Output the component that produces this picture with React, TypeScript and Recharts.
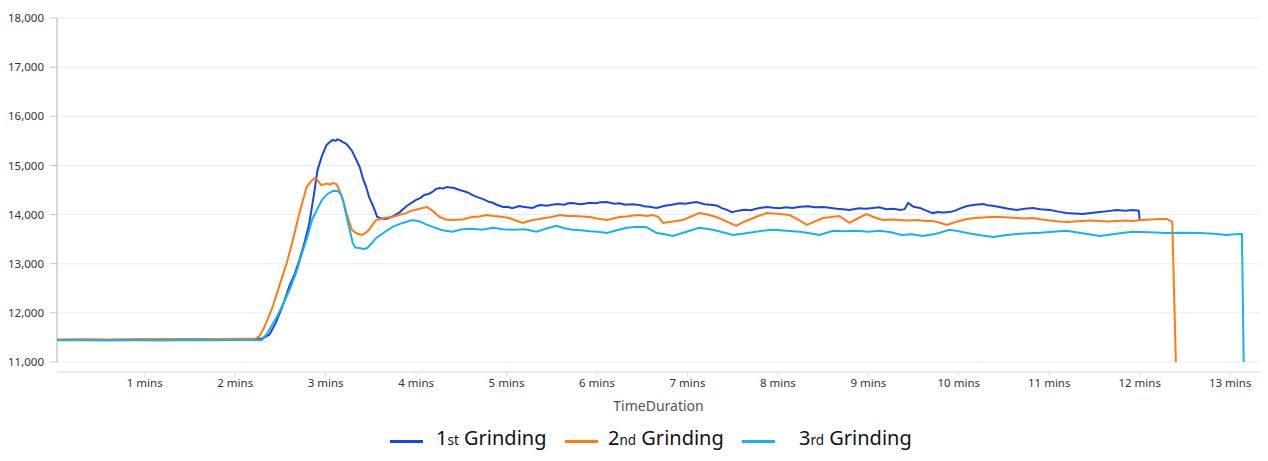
import React from 'react';
import { LineChart, Line, XAxis, YAxis, CartesianGrid, Legend, ReferenceLine } from 'recharts';

const seriesNames = ['1st Grinding', '2nd Grinding', '3rd Grinding'];
const xTicks = [1, 2, 3, 4, 5, 6, 7, 8, 9, 10, 11, 12, 13];
const yTicks = [11000, 12000, 13000, 14000, 15000, 16000, 17000, 18000];

const firstT = [
  0.02, 0.3, 0.6, 0.9, 1.2, 1.5, 1.8, 2.1, 2.25, 2.3,
  2.38, 2.45, 2.52, 2.6, 2.66, 2.71, 2.77, 2.82, 2.87, 2.91,
  2.96, 3.01, 3.05, 3.08, 3.11, 3.13, 3.16, 3.19, 3.22, 3.24,
  3.29, 3.34, 3.38, 3.41, 3.45, 3.48, 3.53, 3.57, 3.62, 3.67,
  3.74, 3.82, 3.9, 4.0, 4.05, 4.09, 4.14, 4.18, 4.22, 4.26,
  4.3, 4.34, 4.38, 4.42, 4.48, 4.52, 4.57, 4.62, 4.67, 4.72,
  4.76, 4.81, 4.85, 4.89, 4.96, 5.01, 5.06, 5.1, 5.14, 5.18,
  5.22, 5.29, 5.33, 5.37, 5.45, 5.5, 5.56, 5.64, 5.68, 5.73,
  5.81, 5.86, 5.92, 5.98, 6.04, 6.11, 6.19, 6.25, 6.31, 6.39,
  6.47, 6.52, 6.58, 6.66, 6.75, 6.83, 6.91, 6.98, 7.04, 7.1,
  7.19, 7.28, 7.33, 7.38, 7.43, 7.49, 7.56, 7.63, 7.7, 7.78,
  7.88, 7.95, 8.02, 8.09, 8.16, 8.25, 8.33, 8.41, 8.5, 8.57,
  8.65, 8.72, 8.79, 8.9, 8.97, 9.05, 9.12, 9.2, 9.28, 9.35,
  9.4, 9.44, 9.5, 9.57, 9.64, 9.71, 9.77, 9.82, 9.9, 9.96,
  10.01, 10.09, 10.18, 10.27, 10.32, 10.37, 10.45, 10.55, 10.64, 10.73,
  10.82, 10.9, 11.01, 11.1, 11.19, 11.28, 11.37, 11.46, 11.56, 11.65,
  11.75, 11.84, 11.92, 11.99, 12.0,
];
const firstV = [
  11450, 11455, 11450, 11460, 11455, 11465, 11460, 11470, 11470, 11480,
  11560, 11800, 12120, 12550, 12800, 13075, 13450, 13830, 14400, 14900,
  15200, 15415, 15480, 15520, 15500, 15530, 15510, 15475, 15450, 15415,
  15300, 15110, 14950, 14745, 14550, 14360, 14150, 13950, 13920, 13910,
  13960, 14050, 14180, 14300, 14340, 14400, 14420, 14460, 14520, 14540,
  14530, 14560, 14550, 14540, 14500, 14480, 14450, 14400, 14360, 14330,
  14300, 14255, 14240, 14200, 14155, 14160, 14130, 14150, 14175, 14160,
  14150, 14135, 14170, 14195, 14180, 14200, 14215, 14200, 14230, 14235,
  14210, 14220, 14240, 14230, 14250, 14255, 14220, 14230, 14200, 14210,
  14195, 14170, 14160, 14135, 14180, 14200, 14230, 14220, 14240, 14255,
  14210, 14195, 14180, 14130, 14100, 14050, 14080, 14100, 14090, 14130,
  14155, 14140, 14130, 14150, 14135, 14160, 14170, 14150, 14155, 14140,
  14120, 14110, 14095, 14130, 14120, 14135, 14150, 14110, 14120, 14095,
  14110, 14235, 14160, 14135, 14080, 14030, 14050, 14040, 14050, 14080,
  14120, 14175, 14200, 14215, 14190, 14180, 14155, 14120, 14095, 14120,
  14135, 14110, 14095, 14060, 14030, 14020, 14010, 14030, 14050, 14070,
  14095, 14080, 14095, 14080, 13880,
];

const secondT = [
  0.02, 0.3, 0.6, 0.9, 1.2, 1.5, 1.8, 2.1, 2.23, 2.27,
  2.32, 2.41, 2.49, 2.57, 2.64, 2.71, 2.79, 2.84, 2.88, 2.91,
  2.95, 2.99, 3.02, 3.05, 3.08, 3.12, 3.15, 3.2, 3.23, 3.29,
  3.34, 3.4, 3.44, 3.48, 3.52, 3.56, 3.65, 3.74, 3.81, 3.89,
  3.95, 4.0, 4.06, 4.12, 4.18, 4.26, 4.33, 4.4, 4.51, 4.62,
  4.7, 4.78, 4.85, 4.92, 5.03, 5.1, 5.18, 5.23, 5.29, 5.36,
  5.42, 5.5, 5.59, 5.67, 5.75, 5.84, 5.92, 6.0, 6.11, 6.18,
  6.25, 6.33, 6.4, 6.47, 6.55, 6.62, 6.68, 6.73, 6.84, 6.95,
  7.04, 7.13, 7.22, 7.32, 7.43, 7.54, 7.62, 7.69, 7.78, 7.88,
  8.02, 8.13, 8.24, 8.32, 8.41, 8.5, 8.59, 8.68, 8.79, 8.88,
  8.98, 9.07, 9.16, 9.25, 9.35, 9.45, 9.55, 9.63, 9.71, 9.8,
  9.87, 9.98, 10.09, 10.18, 10.27, 10.36, 10.45, 10.55, 10.64, 10.73,
  10.82, 10.92, 11.01, 11.1, 11.19, 11.28, 11.37, 11.46, 11.56, 11.65,
  11.75, 11.84, 11.92, 12.02, 12.12, 12.22, 12.3, 12.36, 12.4,
];
const secondV = [
  11460, 11465, 11460, 11465, 11470, 11465, 11470, 11475, 11480, 11530,
  11700, 12100, 12560, 13015, 13500, 14030, 14560, 14680, 14745, 14700,
  14600, 14620, 14630, 14610, 14640, 14620, 14500, 14250, 14030, 13690,
  13620, 13585, 13620, 13690, 13800, 13890, 13930, 13950, 13990, 14030,
  14080, 14100, 14130, 14155, 14080, 13950, 13900, 13890, 13900, 13950,
  13960, 13990, 13970, 13960, 13930, 13880, 13830, 13860, 13890, 13910,
  13930, 13950, 13990, 13970, 13970, 13960, 13950, 13920, 13890, 13920,
  13950, 13960, 13980, 13990, 13970, 13990, 13950, 13830, 13860, 13890,
  13960, 14030, 14000, 13950, 13860, 13770, 13850, 13900, 13970, 14030,
  14010, 13990, 13880, 13790, 13860, 13930, 13950, 13970, 13830, 13920,
  14010, 13940, 13890, 13900, 13890, 13880, 13890, 13870, 13870, 13830,
  13790, 13860, 13910, 13930, 13940, 13950, 13950, 13940, 13930, 13920,
  13930, 13900, 13880, 13860, 13850, 13860, 13870, 13880, 13870, 13860,
  13870, 13880, 13870, 13890, 13900, 13910, 13910, 13850, 11000,
];

const thirdT = [
  0.02, 0.3, 0.6, 0.9, 1.2, 1.5, 1.8, 2.1, 2.25, 2.3,
  2.36, 2.46, 2.53, 2.6, 2.68, 2.74, 2.8, 2.85, 2.91, 2.96,
  3.02, 3.08, 3.13, 3.17, 3.19, 3.24, 3.3, 3.33, 3.37, 3.42,
  3.46, 3.51, 3.56, 3.65, 3.74, 3.85, 3.96, 4.04, 4.11, 4.18,
  4.29, 4.4, 4.51, 4.62, 4.73, 4.85, 4.96, 5.07, 5.2, 5.33,
  5.45, 5.55, 5.64, 5.73, 5.82, 5.92, 6.01, 6.11, 6.22, 6.33,
  6.44, 6.55, 6.66, 6.75, 6.84, 6.99, 7.13, 7.28, 7.39, 7.5,
  7.61, 7.72, 7.83, 7.94, 8.09, 8.24, 8.35, 8.46, 8.61, 8.74,
  8.87, 9.0, 9.13, 9.25, 9.37, 9.48, 9.6, 9.75, 9.9, 10.0,
  10.09, 10.24, 10.38, 10.51, 10.64, 10.77, 10.9, 11.04, 11.19, 11.37,
  11.56, 11.74, 11.92, 12.1, 12.3, 12.48, 12.67, 12.82, 12.96, 13.05,
  13.13, 13.15,
];
const thirdV = [
  11440, 11445, 11440, 11445, 11440, 11450, 11445, 11450, 11445, 11450,
  11600, 11915, 12180, 12465, 12850, 13220, 13560, 13890, 14120, 14300,
  14420, 14480, 14480, 14420, 14300, 13890, 13420, 13330, 13320, 13300,
  13320, 13420, 13525, 13640, 13750, 13830, 13890, 13860, 13800, 13750,
  13680, 13650, 13700, 13710, 13690, 13730, 13700, 13690, 13700, 13650,
  13720, 13770, 13720, 13690, 13680, 13660, 13650, 13625, 13680, 13730,
  13750, 13740, 13625, 13600, 13565, 13650, 13730, 13690, 13640, 13585,
  13610, 13640, 13670, 13690, 13670, 13650, 13620, 13585, 13670, 13660,
  13670, 13650, 13670, 13640, 13585, 13600, 13565, 13610, 13690, 13660,
  13625, 13580, 13545, 13580, 13605, 13620, 13630, 13650, 13670, 13620,
  13565, 13610, 13650, 13640, 13625, 13630, 13625, 13610, 13585, 13600,
  13605, 11000,
];

const colors = ['#1b44e8', '#ff7b12', '#15b3ec'];

const build = (ts: number[], vs: number[]) => ts.map((t, i) => ({ t, v: vs[i] }));
const firstData = build(firstT, firstV);
const secondData = build(secondT, secondV);
const thirdData = build(thirdT, thirdV);

const legendPos = [
  { sw: 390, tx: 436 },
  { sw: 565, tx: 608 },
  { sw: 742, tx: 799 },
];
const suffixes = ['st', 'nd', 'rd'];
const digits = ['1', '2', '3'];

const renderLegend = () => (
  <div style={{ position: 'relative', height: 40, width: 1268, fontFamily: '"Noto Sans", sans-serif' }}>
    {seriesNames.map((name, i) => (
      <React.Fragment key={name}>
        <div
          style={{
            position: 'absolute',
            left: legendPos[i].sw,
            top: 23,
            width: 33,
            height: 2.5,
            background: colors[i],
          }}
        />
        <div
          style={{
            position: 'absolute',
            left: legendPos[i].tx,
            top: 8,
            fontSize: 20,
            lineHeight: '26px',
            color: '#111',
            whiteSpace: 'nowrap',
          }}
        >
          {digits[i]}
          <span style={{ fontSize: 13.5 }}>{suffixes[i]}</span> Grinding
        </div>
      </React.Fragment>
    ))}
  </div>
);

export default function App() {
  return (
    <div style={{ margin: -8 }}>
      <LineChart
        width={1268}
        height={461}
        margin={{ top: 18, right: 8, bottom: 4, left: 0 }}
        style={{ fontFamily: '"Noto Sans", sans-serif' }}
      >
        <CartesianGrid vertical={false} stroke="#ececec" />
        <XAxis
          dataKey="t"
          type="number"
          domain={[0.03, 13.33]}
          ticks={xTicks}
          tickFormatter={(v: number) => `${v} mins`}
          allowDataOverflow
          height={45}
          stroke="#e2e2e2"
          tickSize={5}
          tickMargin={2}
          tick={{ fill: '#333', fontSize: 11.5 }}
          label={{ value: 'TimeDuration', position: 'insideBottom', offset: 6, fill: '#555', fontSize: 14 }}
        />
        <YAxis
          type="number"
          domain={[11000, 18000]}
          ticks={yTicks}
          width={57}
          padding={{ top: 0, bottom: 10 }}
          axisLine={false}
          tickLine={{ stroke: '#c8c8c8' }}
          tickSize={7}
          tickMargin={6}
          tickFormatter={(v: number) => v.toLocaleString('en-US')}
          tick={{ fill: '#333', fontSize: 11.5 }}
        />
        <ReferenceLine
          segment={[{ x: 0.03, y: 11000 }, { x: 0.03, y: 18000 }]}
          stroke="#c8c8c8"
          strokeWidth={1.5}
          ifOverflow="visible"
        />
        <Legend verticalAlign="bottom" height={40} content={renderLegend} />
        <Line data={firstData} dataKey="v" name={seriesNames[0]} stroke={colors[0]} strokeWidth={2} dot={false} isAnimationActive={false} type="linear" />
        <Line data={secondData} dataKey="v" name={seriesNames[1]} stroke={colors[1]} strokeWidth={2} dot={false} isAnimationActive={false} type="linear" />
        <Line data={thirdData} dataKey="v" name={seriesNames[2]} stroke={colors[2]} strokeWidth={2} dot={false} isAnimationActive={false} type="linear" />
      </LineChart>
    </div>
  );
}
